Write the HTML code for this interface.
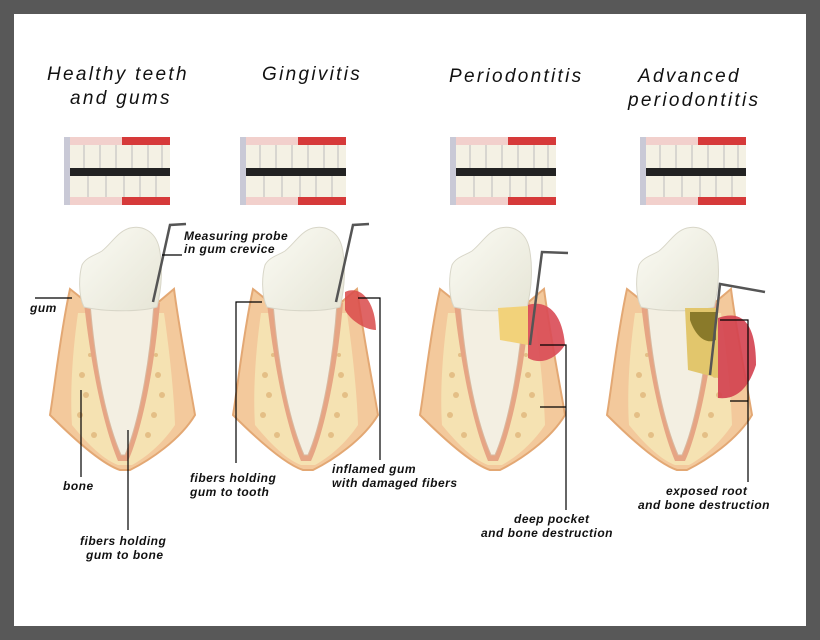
<!DOCTYPE html>
<html><head><style>
body{margin:0;width:820px;height:640px;background:#585858;}
svg{display:block}
text{font-family:"Liberation Sans",sans-serif;font-style:italic;}
.t{font-size:19px;letter-spacing:2.3px;fill:#111}
.l{font-size:12px;font-weight:bold;letter-spacing:0.5px;fill:#111}
</style></head><body>
<svg width="820" height="640" viewBox="0 0 820 640">
<rect x="14" y="14" width="792" height="612" fill="#fff"/>
<defs>
<linearGradient id="cr" x1="0" y1="0" x2="1" y2="1"><stop offset="0" stop-color="#fbfbf4"/><stop offset="1" stop-color="#e6e5d6"/></linearGradient>
<g id="photo">
<rect x="0" y="0" width="8" height="68" fill="#c9c9d6"/>
<rect x="6" y="0" width="58" height="68" fill="#f2d0cc"/>
<rect x="58" y="0" width="48" height="68" fill="#d63a3a"/>
<rect x="6" y="8" width="100" height="52" fill="#f4f1e4"/>
<rect x="6" y="31" width="100" height="8" fill="#222"/>
<g stroke="#bbb" stroke-width="1">
<line x1="20" y1="8" x2="20" y2="31"/><line x1="36" y1="8" x2="36" y2="31"/><line x1="52" y1="8" x2="52" y2="31"/><line x1="68" y1="8" x2="68" y2="31"/><line x1="84" y1="8" x2="84" y2="31"/><line x1="98" y1="8" x2="98" y2="31"/>
<line x1="24" y1="39" x2="24" y2="60"/><line x1="42" y1="39" x2="42" y2="60"/><line x1="60" y1="39" x2="60" y2="60"/><line x1="76" y1="39" x2="76" y2="60"/><line x1="92" y1="39" x2="92" y2="60"/>
</g>
</g>
<g id="tooth">
<path d="M20,64 C10,110 5,160 0,190 C30,220 55,240 70,245 L80,245 C100,235 130,215 145,190 C140,160 130,110 124,64 L105,80 L40,80 Z" fill="#f3c99c" stroke="#e3a874" stroke-width="2"/>
<path d="M28,88 C22,130 20,170 22,200 C40,222 55,235 68,240 L82,240 C100,230 115,215 125,200 C124,170 120,130 114,88 Z" fill="#f5e2b2"/>
<g fill="#d9a86a" opacity="0.6">
<circle cx="32" cy="150" r="3"/><circle cx="36" cy="170" r="3"/><circle cx="30" cy="190" r="3"/><circle cx="44" cy="210" r="3"/><circle cx="40" cy="130" r="2"/>
<circle cx="108" cy="150" r="3"/><circle cx="112" cy="170" r="3"/><circle cx="104" cy="190" r="3"/><circle cx="98" cy="210" r="3"/><circle cx="106" cy="130" r="2"/>
</g>
<path d="M34,78 L110,78 C104,150 90,210 78,236 L68,236 C55,205 42,150 34,78 Z" fill="#e6a584"/>
<path d="M40,78 L104,78 C99,150 86,205 75,230 L71,230 C58,200 46,150 40,78 Z" fill="#f3efe2" stroke="#d9b9a0"/>
<path d="M34,82 C28,70 29,50 32,40 C36,32 46,30 52,26 C62,18 68,6 80,3 C92,0 105,6 109,22 C113,40 112,62 107,82 C90,87 55,87 34,82 Z" fill="url(#cr)" stroke="#d8d6c8"/>
</g>
</defs>
<text class="t" x="47" y="80">Healthy teeth</text>
<text class="t" x="70" y="104">and gums</text>
<text class="t" x="262" y="80">Gingivitis</text>
<text class="t" x="449" y="82">Periodontitis</text>
<text class="t" x="638" y="82">Advanced</text>
<text class="t" x="628" y="106">periodontitis</text>
<use href="#photo" x="64" y="137"/>
<use href="#photo" x="240" y="137"/>
<use href="#photo" x="450" y="137"/>
<use href="#photo" x="640" y="137"/>
<use href="#tooth" x="50" y="225"/>
<use href="#tooth" x="233" y="225"/>
<use href="#tooth" x="420" y="225"/>
<use href="#tooth" x="607" y="225"/>
<path d="M345,292 C360,285 375,300 376,330 C365,330 350,320 345,310 Z" fill="#d94a4a" opacity="0.85"/>
<path d="M498,308 L528,306 L528,345 L500,340 Z" fill="#f2d27a"/>
<path d="M528,305 C545,300 562,310 565,345 C555,360 540,365 528,358 Z" fill="#d94a55" opacity="0.9"/>
<path d="M685,308 L718,308 L718,378 L688,370 Z" fill="#e2c66c"/>
<path d="M690,312 L716,312 L716,340 C705,345 695,335 690,320 Z" fill="#8a7a2a"/>
<path d="M718,318 C740,310 756,320 756,365 C748,390 735,400 718,398 Z" fill="#d3404f" opacity="0.9"/>
<g fill="none" stroke="#555" stroke-width="2.5">
<path d="M153,302 L170,225 L186,224"/>
<path d="M336,302 L353,225 L369,224"/>
<path d="M530,345 L542,252 L568,253"/>
<path d="M710,375 L720,284 L765,292"/>
</g>
<g fill="none" stroke="#000" stroke-width="1.2">
<path d="M162,255 L182,255"/>
<path d="M35,298 L72,298"/>
<path d="M81,390 L81,477"/>
<path d="M128,430 L128,530"/>
<path d="M262,302 L236,302 L236,463"/>
<path d="M358,298 L380,298 L380,460"/>
<path d="M540,345 L566,345 L566,510"/>
<path d="M540,407 L566,407"/>
<path d="M720,320 L748,320 L748,482"/>
<path d="M730,401 L748,401"/>
</g>
<text class="l" x="184" y="240">Measuring probe</text>
<text class="l" x="184" y="253">in gum crevice</text>
<text class="l" x="30" y="312">gum</text>
<text class="l" x="63" y="490">bone</text>
<text class="l" x="80" y="545">fibers holding</text>
<text class="l" x="86" y="559">gum to bone</text>
<text class="l" x="190" y="482">fibers holding</text>
<text class="l" x="190" y="496">gum to tooth</text>
<text class="l" x="332" y="473">inflamed gum</text>
<text class="l" x="332" y="487">with damaged fibers</text>
<text class="l" x="514" y="523">deep pocket</text>
<text class="l" x="481" y="537">and  bone destruction</text>
<text class="l" x="666" y="495">exposed root</text>
<text class="l" x="638" y="509">and bone destruction</text>
</svg>
</body></html>
